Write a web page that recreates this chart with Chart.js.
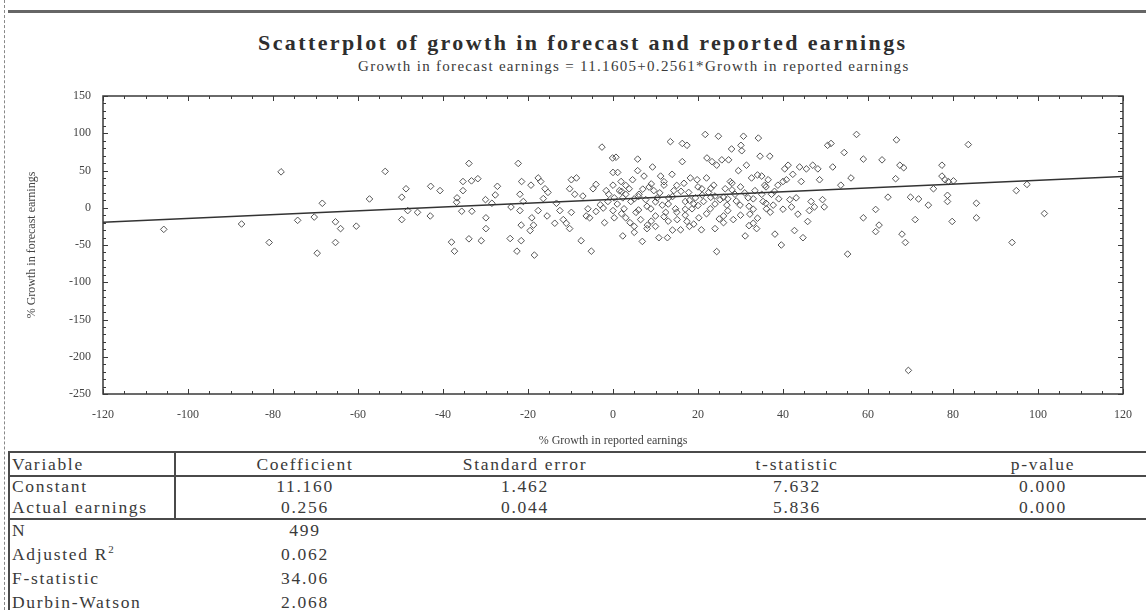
<!DOCTYPE html>
<html>
<head>
<meta charset="utf-8">
<script src="https://cdn.jsdelivr.net/npm/chart.js@4.4.0/dist/chart.umd.min.js"></script>
<style>
html,body{margin:0;padding:0;background:#fff;}
body{width:1146px;height:610px;position:relative;overflow:hidden;font-family:"Liberation Serif","Times New Roman",serif;color:#333;}
#wrap{position:absolute;left:0;top:0;width:1146px;height:450px;}
.t{position:absolute;white-space:nowrap;height:22px;line-height:22px;}
.cell{font-size:17.5px;letter-spacing:1.7px;color:#3a3a3a;}
.ln{position:absolute;background:#4a4a4a;}
#title{position:absolute;left:258px;top:30px;font-size:22px;font-weight:bold;letter-spacing:2.4px;color:#2e2e2e;white-space:nowrap;}
#subtitle{position:absolute;left:358px;top:58px;font-size:15px;letter-spacing:1.3px;color:#3a3a3a;white-space:nowrap;}
#leftdash{position:absolute;left:4px;top:0;width:0;height:610px;border-left:1px dashed #888;}
sup{font-size:11px;line-height:0;}
</style>
</head>
<body>
<div id="leftdash"></div>
<div class="ln" style="left:8px;top:10px;width:1138px;height:3px;background:#666;"></div>
<div id="title">Scatterplot of growth in forecast and reported earnings</div>
<div id="subtitle">Growth in forecast earnings = 11.1605+0.2561*Growth in reported earnings</div>
<div id="wrap"><canvas id="c" width="1146" height="450"></canvas></div>
<div id="table"></div>
<script>
// ---- data ----
const reportedGrowth = [
-78.1,-87.4,-105.7,-80.9,-74.2,-68.4,-70.3,-65.3,-64.1,-65.3,-69.6,-60.4,
-53.6,-57.3,-49.7,-48.7,-49.7,-48.3,-46,-43,-42.9,-40.7,-38,-37.3,-36.7,-36.8,-35.6,-35.3,-35.3,-33.9,-33.3,-33.2,-31.8,-33.9,-31,-30,-29.9,-29.9,-28.5,-27.7,-27.2,-24.2,-24,-22.6,-22.3,-21.9,-21.9,-21.6,-21.6,-21.5,-21.1,-19.5,-19.3,-19.1,-18.5,-18.7,-17.6,-17.6,-17,-16.4,-16,-15.3,-15.5,-13.7,-13.3,-12.5,-11.7,-11,-10.2,-10.2,-9.8,-8.6,-9.8,-9,-7.5,-7.1,-6.3,-5.9,-5.5,-5.1,-4.7,-4,-2.6,-2.3,-1.6,-1.2,-0.1,0,0,0.3,0,0.3,
0.7,2.3,1.1,1.9,1.5,2.3,2.6,3,3.8,4.2,4.6,5,5.4,5.8,5.8,6.1,6.5,6.9,7.3,7.7,8.1,8.5,8.9,9.3,9.6,10,10.4,10.8,11.2,11.6,12,12.4,12.8,13.1,13.5,13.9,14.3,14.7,15.1,15.9,16.3,16.3,16.7,17,17.4,17.4,17.8,18.2,18.6,19.4,19.8,20.2,20.8,20.9,21.3,21.7,22.1,22.5,22.9,23.3,23.7,24,24.4,24.4,24.8,25.2,25.6,26,26.4,26.8,27.2,27.6,27.9,28.3,28.7,29.5,29.9,30.1,30.3,30.7,31.1,31.4,31.8,32.2,32.6,33,33.4,33.8,34.2,34.6,35,35.3,35.7,36.1,36.5,36.9,37.3,37.7,38.1,38.8,39.6,40,40.4,40.8,41.2,41.6,42,42.3,42.7,43.1,43.5,43.9,44.3,44.7,45.5,45.8,46.2,46.6,47,47.4,48.2,48.6,49.3,49.7,50.5,51.3,51.7,54.4,53.6,56,55.2,57.3,58.9,58.9,
66.7,63.3,67.5,68.4,66.5,64.7,61.8,62.6,61.8,68,68.8,70,71.9,71.1,74.2,75.4,77.4,77.4,78.1,78.9,80.1,78.7,78.7,79.8,83.6,85.5,85.5,93.9,94.9,97.4,101.5,69.5,
1,2,3,4,5,6,7,8,9,10,11,12,13,14,15,16,17,18,19,20,21,22,23,24,25,26,27,28,29,30,31,32,33,34,35,36,37,38,39,40,3,8,12,18,22,26,30,34,-3,-2,-1,-4,5,14,20,24,28,32,15,10,6,19,27,33,36,23,17,13,9,2
];
const forecastGrowth = [
48.2,-21.8,-29,-46.6,-16.9,6,-12.5,-18.9,-28,-46.6,-61,-24.7,
48.8,11.8,14.2,25.5,-15.9,-3.8,-6.2,-11,28.8,23,-46.1,-58.3,13.3,7.4,-4.7,35.2,23,59.5,36.1,-4.7,39,-41.7,-44.2,10.9,-13.5,-28,6,17.2,28.8,-41.3,1,-58.3,59.5,18.1,-3.8,-23.3,-44.2,35.2,8.4,-30.6,30.3,-13.5,-63.6,-23.3,-3.8,40,35.2,12.3,25.5,20.6,-11,-20.8,6,-3.8,-15.9,-20.8,-28,25.5,37.6,40,-6.2,18.1,-44.2,15.7,-11,-1.4,-13.5,-58.3,25.5,31.3,81.4,-0.4,23,8.4,66.8,47.4,30.3,13.3,-3.8,-13.5,
67.8,-37.8,47.4,35.2,23,13.3,-1.4,-13.5,25.5,8.4,37.6,-33,-6.2,65.3,49.8,18.1,-15.9,-45.2,42.5,10.9,-23.3,27.8,-1.4,54.7,23,-11,13.3,-40.2,42.5,3.5,30.3,-6.2,-40.2,13.3,88.7,44.9,23,-1.4,-15.9,-29.6,86.3,61.9,32.8,8.4,83.8,-18.4,20.6,40,-1.4,13.3,37.6,-13.5,-29.6,25.5,8.4,98.4,66.8,20.6,-1.4,61.9,30.3,15.7,-58.8,57.1,96,10.9,64.3,-11,25.5,3.5,64.3,35.2,78.9,-15.9,18.1,49.8,3.5,83.8,76.5,96,-37.8,57.1,13.3,-8.6,40,-20.8,23,-28,93.5,69.2,42.5,8.4,30.3,-1.4,37.6,69.2,18.1,3.5,-35.4,30.3,-50,35.2,52.2,37.6,57.1,10.9,1.1,44.9,-30.6,13.3,-8.6,54.7,35.2,-40.2,52.2,-18.4,-3.8,8.4,57.1,1.1,52.2,37.6,10.9,1.1,83.8,86.3,54.7,74.1,30.3,40,-62.2,98.4,65.3,-13.5,
91.1,64.3,57.1,53.7,39,14.2,-2.3,-23.3,-32,-35.4,-46.6,14.2,11.8,-15.9,3.5,25.5,57.1,42.5,37.6,35.2,36.1,16.7,8.4,-18.4,84.8,6,-13.5,-46.6,23,31.3,-7.7,-218.3,
5,-8,18,-20,12,-3,25,2,-18,8,20,-12,5,15,-6,22,-2,10,-22,3,17,-8,26,5,-15,14,-4,24,9,-10,20,2,12,-14,18,6,-6,22,12,-2,30,-28,35,-25,40,-20,28,44,4,-20,18,-5,-25,-30,28,-28,33,-24,30,-25,15,5,12,-2,28,14,-10,-18,32,22
];
// fitted regression line (ends read at the plot edges)
const fitX = [-120, 120];
const fitY = [-19.6, 41.9];
// axes
const xTicks = [-120,-100,-80,-60,-40,-20,0,20,40,60,80,100,120];
const yTicks = [-250,-200,-150,-100,-50,0,50,100,150];
const xMinorStep = 5;
const yMinorStep = 10;
// regression table
const tableHeader = ['Variable','Coefficient','Standard error','t-statistic','p-value'];
const tableVars = ['Constant','Actual earnings'];
const tableCoef = ['11.160','0.256'];
const tableSE = ['1.462','0.044'];
const tableT = ['7.632','5.836'];
const tableP = ['0.000','0.000'];
const statNames = ['N','Adjusted R<sup>2</sup>','F-statistic','Durbin-Watson'];
const statValues = ['499','0.062','34.06','2.068'];

// ---- table (HTML text) ----
(function(){
  const tb = document.getElementById('table');
  const colCenters = [null, 305, 525, 797, 1043];
  const rowCenters = [464, 486, 507];
  const statCenters = [530, 554, 578, 602];
  function put(html, cy, cx, left){
    const d = document.createElement('div');
    d.className = 't cell';
    d.innerHTML = html;
    d.style.top = (cy - 11) + 'px';
    if (left !== undefined) { d.style.left = left + 'px'; }
    else { d.style.left = (cx - 200) + 'px'; d.style.width = '400px'; d.style.textAlign = 'center'; }
    tb.appendChild(d);
  }
  function line(l,t,w,h){ const d=document.createElement('div'); d.className='ln'; d.style.left=l+'px'; d.style.top=t+'px'; d.style.width=w+'px'; d.style.height=h+'px'; tb.appendChild(d); }
  tableHeader.forEach((h,i)=> i===0 ? put(h,rowCenters[0],0,12) : put(h,rowCenters[0],colCenters[i]));
  const cols = [tableVars, tableCoef, tableSE, tableT, tableP];
  for (let r=0;r<tableVars.length;r++){
    cols.forEach((c,i)=> i===0 ? put(c[r],rowCenters[r+1],0,12) : put(c[r],rowCenters[r+1],colCenters[i]));
  }
  statNames.forEach((n,r)=>{ put(n,statCenters[r],0,12); put(statValues[r],statCenters[r],colCenters[1]); });
  line(8,451,1138,2);
  line(8,475,1138,2);
  line(8,518,1138,2);
  line(174,451,1.5,69);
  line(8,451,1.5,159);
})();

// ---- chart ----
const serif = '"Liberation Serif","Times New Roman",serif';
const framePlugin = {
  id: 'frame',
  afterDraw(chart){
    const {ctx, chartArea:a, scales:{x, y}} = chart;
    ctx.save();
    ctx.strokeStyle = '#3a3a3a';
    ctx.lineWidth = 1.5;
    ctx.strokeRect(a.left, a.top, a.right - a.left, a.bottom - a.top);
    ctx.lineWidth = 1;
    ctx.beginPath();
    for (let v = x.min; v <= x.max; v += xMinorStep){
      const px = Math.round(x.getPixelForValue(v)) + 0.5;
      const len = xTicks.includes(v) ? 5 : 3;
      ctx.moveTo(px, a.bottom); ctx.lineTo(px, a.bottom - len);
      ctx.moveTo(px, a.top); ctx.lineTo(px, a.top + len);
    }
    for (let v = y.min; v <= y.max; v += yMinorStep){
      const py = Math.round(y.getPixelForValue(v)) + 0.5;
      const len = yTicks.includes(v) ? 5 : 3;
      ctx.moveTo(a.left, py); ctx.lineTo(a.left + len, py);
      ctx.moveTo(a.right, py); ctx.lineTo(a.right - len, py);
    }
    ctx.stroke();
    ctx.restore();
  }
};

new Chart(document.getElementById('c'), {
  type: 'scatter',
  data: {
    datasets: [
      {
        type: 'line',
        data: fitX.map((v,i)=>({x:v, y:fitY[i]})),
        borderColor: '#333',
        borderWidth: 1.5,
        pointRadius: 0,
        fill: false,
        order: 0
      },
      {
        data: reportedGrowth.map((v,i)=>({x:v, y:forecastGrowth[i]})),
        pointStyle: 'rectRot',
        pointRadius: 3.3,
        borderColor: '#555',
        borderWidth: 1,
        backgroundColor: 'rgba(255,255,255,0)',
        order: 1
      }
    ]
  },
  options: {
    responsive: false,
    animation: false,
    devicePixelRatio: 1,
    layout: { padding: { top: 96, right: 15, left: 0, bottom: 0 } },
    plugins: { legend: { display: false }, tooltip: { enabled: false } },
    scales: {
      x: {
        type: 'linear', min: -120, max: 120,
        afterBuildTicks: s => { s.ticks = xTicks.map(v => ({ value: v })); },
        afterFit: s => { s.height = 56; },
        grid: { display: false, drawTicks: false },
        border: { display: false },
        ticks: { padding: 14, color: '#444', maxRotation: 0, autoSkip: false, font: { family: serif, size: 12 } },
        title: { display: true, text: '% Growth in reported earnings', color: '#444', font: { family: serif, size: 12 }, padding: { top: 0, bottom: 2 } }
      },
      y: {
        type: 'linear', min: -250, max: 150,
        afterBuildTicks: s => { s.ticks = yTicks.map(v => ({ value: v })); },
        afterFit: s => { s.width = 103; },
        grid: { display: false, drawTicks: false },
        border: { display: false },
        ticks: { padding: 12, color: '#444', autoSkip: false, font: { family: serif, size: 12 } },
        title: { display: true, text: '% Growth in forecast earnings', color: '#444', font: { family: serif, size: 12 }, padding: { top: 25, bottom: 0 } }
      }
    }
  },
  plugins: [framePlugin]
});
</script>
</body>
</html>
